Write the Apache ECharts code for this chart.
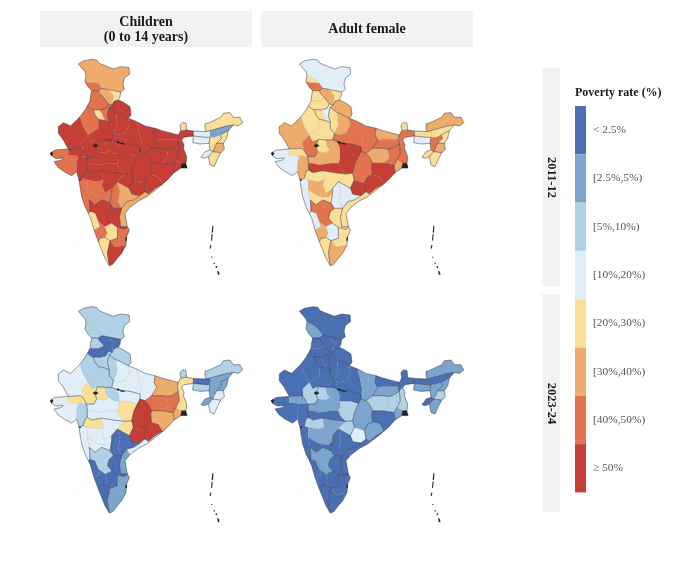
<!DOCTYPE html>
<html><head><meta charset="utf-8">
<style>html,body{margin:0;padding:0;background:#fff}#c{width:680px;height:577px}</style>
<script src="https://cdn.jsdelivr.net/npm/echarts@6/dist/echarts.min.js"></script>
</head><body><div id="c"></div>
<script>
// ---------- chart values: estimated poverty rate (%), per region ----------
const regionNames = ['JK_L','JK_A','JK_B','HP_W','HP_E','PB_N','PB_S','HR_W','HR_E','UK','UP_W','UP_C1','UP_C2','UP_E',
 'RJ_W','RJ_N','RJ_E','RJ_S','RJ_SE','MP_NW','MP_V','MP_W','MP_S','MP_E','GJ_W','GJ_N','GJ_E',
 'MH_COAST','MH_N','MH_C','MH_E','MH_W','MH_S','CG_N','CG_S','OD_N','OD_S','AP_N','AP_S','TS_W','TS_E','RS',
 'KA_N','KA_C','KA_SW','KA_S','KL','TN_N','TN_S','BR_N','BR_S','JH_W','JH_E','WB_N','WB_M','WB_S','SK',
 'AR','AS_E','AS_W','ML','AS_S','NL','MN','MZ','TR'];
const children2011 = [35,36,46,34,26,44,45,24,42,56,55,58,60,62,
 53,44,54,58,55,57,61,60,59,57,44,52,53,
 43,55,54,56,42,43,60,62,58,61,33,34,44,36,52,
 53,25,42,26,24,43,51,66,63,64,62,56,54,52,23,
 25,4,14,13,24,23,33,26,14];
const adult2011 = [14,24,46,33,26,24,25,23,14,33,25,36,44,46,
 34,24,26,43,24,34,53,35,56,52,14,25,33,
 15,25,24,26,34,23,44,52,51,54,23,24,14,13,25,
 44,14,35,13,24,23,33,34,44,35,43,44,45,38,24,
 34,24,26,15,44,25,34,23,25];
const children2023 = [8,7,8,2.2,2,8,2,7,8,7,8,15,14,16,
 14,8,7,24,26,8,16,14,13,27,15,25,7,
 15,24,14,26,15,12,55,58,36,54,12,4,1.9,2,1.8,
 8,1.8,2,1.7,1.9,4,3.8,35,34,44,43,25,24,33,8,
 8,4,2,7,4,3.5,16,14,3.6];
const adult2023 = [1.5,4,4,1.4,1.6,1.5,1.2,1.6,1.3,1.8,1.5,1.4,1.6,3.5,
 1.5,1.3,1.6,7,8,4,1.9,3.8,1.7,8,1.6,4,1.5,
 1.6,7,4,7,4,1.9,4,12,1.8,3.6,1.4,1.6,1.5,1.6,1.8,
 4,1.3,1.5,1.7,1.6,1.4,1.5,1.6,3.8,8,7,1.5,6,3.9,1.6,
 4,1.7,1.5,4,3.6,3.8,8,3.7,1.8];
const panelTitles = ['Children\n(0 to 14 years)','Adult female'];
const yearLabels = ['2011-12','2023-24'];
const legendTitle = 'Poverty rate (%)';
const binLabels = ['< 2.5%','[2.5%,5%)','[5%,10%)','[10%,20%)','[20%,30%)','[30%,40%)','[40%,50%)','\u2265 50%'];
const binEdges = [0,2.5,5,10,20,30,40,50,1000];

// ---------- styles ----------
const binColors = ['#4b6fb3','#7ca5cd','#b1d1e6','#e1eef8','#fadf98','#eeac6c','#e1744f','#c53f36'];
const FONT = '"Liberation Serif","Times New Roman",serif';

// ---------- map geometry (hand-traced base map, in a local map coordinate system x, y down) ----------
const G = {
JK_L:[[145,192],[160,183],[185,178],[200,180],[207,190],[225,197],[250,207],[272,200],[297,203],[299,222],[283,235],[279,252],[283,268],[272,276],[240,270],[232,268],[215,265],[205,250],[190,236],[168,225],[165,215]],
JK_A:[[168,225],[190,236],[205,250],[180,248],[165,245]],
JK_B:[[165,245],[180,248],[205,250],[215,265],[205,272],[185,272],[175,262]],
HP_W:[[205,272],[215,265],[232,268],[250,285],[247,315],[235,312],[222,295],[208,280]],
HP_E:[[232,268],[240,270],[272,276],[270,290],[265,300],[252,304],[247,315],[250,285]],
PB_N:[[185,272],[205,272],[208,280],[222,295],[205,303],[180,303],[182,285]],
PB_S:[[180,303],[205,303],[222,295],[235,312],[228,325],[210,330],[190,329],[185,328],[172,318]],
HR_W:[[190,329],[210,330],[218,345],[225,362],[205,358],[195,345]],
HR_E:[[210,330],[228,325],[235,312],[247,315],[238,322],[232,345],[238,368],[225,362],[218,345]],
UK:[[252,304],[265,300],[280,307],[300,320],[303,345],[295,355],[270,342],[258,337],[250,332],[238,322],[247,315]],
UP_W:[[238,322],[250,332],[258,337],[262,375],[250,400],[238,385],[238,368],[232,345]],
UP_C1:[[258,337],[270,342],[295,355],[298,375],[285,400],[262,405],[250,400],[262,375]],
UP_C2:[[295,355],[320,365],[325,385],[335,430],[330,440],[300,432],[280,430],[258,425],[245,420],[250,400],[262,405],[285,400],[298,375]],
UP_E:[[320,365],[345,378],[375,385],[372,405],[380,420],[365,445],[345,460],[330,455],[330,440],[335,430],[325,385]],
RJ_W:[[115,447],[100,420],[85,400],[85,380],[100,368],[122,378],[150,350],[160,380],[175,405],[155,425],[158,450],[150,445]],
RJ_N:[[150,350],[165,330],[172,318],[185,328],[190,329],[195,345],[205,358],[205,385],[175,405],[160,380]],
RJ_E:[[205,358],[225,362],[238,368],[238,385],[250,400],[245,420],[225,420],[202,418],[185,425],[175,405],[205,385]],
RJ_S:[[175,405],[185,425],[202,418],[195,440],[200,455],[192,470],[170,470],[158,450],[155,425]],
RJ_SE:[[202,418],[225,420],[228,440],[237,450],[225,458],[200,455],[195,440]],
MP_NW:[[225,420],[245,420],[258,425],[267,445],[267,462],[250,460],[237,450],[228,440]],
MP_V:[[258,425],[280,430],[300,432],[330,440],[330,455],[322,470],[300,462],[267,462],[267,445]],
MP_W:[[170,470],[192,470],[200,455],[225,458],[237,450],[250,460],[267,462],[267,480],[262,490],[240,490],[205,495],[182,490],[172,490]],
MP_S:[[172,490],[182,490],[205,495],[240,490],[262,490],[268,505],[285,522],[250,518],[215,512],[185,518],[172,510]],
MP_E:[[267,462],[300,462],[322,470],[312,490],[305,520],[285,522],[268,505],[262,490],[267,480]],
GJ_W:[[115,447],[115,465],[145,468],[140,490],[140,515],[125,527],[105,517],[85,503],[72,485],[95,480],[100,474],[78,476],[65,468],[60,460],[75,450]],
GJ_N:[[115,447],[150,445],[158,450],[170,470],[152,468],[145,468],[115,465]],
GJ_E:[[145,468],[152,468],[170,470],[172,490],[172,510],[165,515],[160,535],[147,540],[140,515],[140,490]],
MH_COAST:[[147,540],[160,535],[172,540],[172,570],[178,600],[180,635],[175,640],[165,620],[155,590],[150,560]],
MH_N:[[165,515],[172,510],[185,518],[215,512],[220,540],[200,545],[172,540],[160,535]],
MH_C:[[215,512],[250,518],[285,522],[270,535],[262,545],[245,565],[225,580],[215,555],[220,540]],
MH_E:[[285,522],[305,520],[310,540],[298,565],[262,545],[270,535]],
MH_W:[[172,540],[200,545],[220,540],[215,555],[225,580],[245,565],[245,580],[232,592],[205,590],[172,570]],
MH_S:[[172,570],[205,590],[232,592],[245,580],[240,610],[215,600],[195,615],[178,600]],
CG_N:[[330,455],[345,460],[355,470],[365,490],[362,500],[365,525],[350,530],[340,550],[310,540],[305,520],[312,490],[322,470]],
CG_S:[[310,540],[340,550],[345,575],[330,587],[305,583],[298,565]],
OD_N:[[365,490],[395,490],[430,495],[432,518],[412,540],[398,552],[385,530],[365,525],[362,500]],
OD_S:[[340,550],[350,530],[365,525],[385,530],[398,552],[375,565],[355,582],[345,575]],
AP_N:[[398,552],[385,563],[350,590],[325,603],[300,622],[290,605],[310,600],[330,587],[345,575],[355,582],[375,565]],
AP_S:[[275,625],[290,605],[300,622],[285,640],[292,680],[272,680],[268,650]],
TS_W:[[245,565],[262,545],[270,575],[265,605],[275,625],[250,625],[240,610],[245,580]],
TS_E:[[262,545],[298,565],[305,583],[330,587],[310,600],[290,605],[275,625],[265,605],[270,575]],
RS:[[238,635],[250,625],[275,625],[268,650],[272,680],[292,680],[285,688],[262,682],[245,670],[232,655]],
KA_N:[[178,600],[195,615],[215,600],[240,610],[250,625],[238,635],[232,655],[245,670],[225,680],[205,665],[195,640],[180,635]],
KA_C:[[175,640],[180,635],[195,640],[205,665],[210,680],[192,690],[182,655]],
KA_SW:[[192,690],[210,680],[205,665],[225,680],[232,700],[225,712],[210,715],[205,725]],
KA_S:[[225,680],[245,670],[262,682],[262,715],[240,722],[225,712],[232,700]],
KL:[[205,725],[210,715],[225,712],[240,722],[232,760],[238,797],[225,775],[215,750]],
TN_N:[[262,682],[285,688],[292,680],[298,690],[290,710],[288,735],[255,742],[240,722],[262,715]],
TN_S:[[240,722],[255,742],[288,735],[275,760],[262,775],[248,793],[238,797],[232,760]],
BR_N:[[375,385],[395,392],[425,400],[445,405],[442,418],[420,418],[395,418],[380,420],[372,405]],
BR_S:[[380,420],[395,418],[420,418],[442,418],[445,432],[425,445],[410,447],[395,445],[365,445]],
JH_W:[[365,445],[395,445],[410,447],[415,475],[395,490],[365,490],[355,470],[345,460]],
JH_E:[[410,447],[425,445],[445,432],[448,460],[438,480],[430,495],[395,490],[415,475]],
WB_N:[[442,418],[445,405],[452,392],[470,390],[490,393],[490,408],[462,412],[455,420],[445,432]],
WB_M:[[445,432],[455,420],[462,435],[460,445],[470,470],[468,490],[455,490],[445,485],[438,480],[448,460]],
WB_S:[[438,480],[445,485],[455,490],[452,505],[432,518],[430,495]],
SK:[[452,392],[450,375],[458,367],[468,370],[470,390]],
AR:[[525,372],[540,367],[572,352],[580,340],[600,338],[610,352],[630,352],[638,368],[625,378],[610,375],[590,378],[565,385],[540,392],[528,395],[525,385]],
AS_E:[[540,392],[565,385],[590,378],[610,375],[595,392],[570,405],[555,412],[540,412]],
AS_W:[[490,393],[528,395],[540,392],[540,412],[525,412],[490,408]],
ML:[[490,408],[525,412],[540,412],[537,430],[510,432],[488,428]],
AS_S:[[540,412],[555,412],[570,405],[575,415],[560,430],[548,455],[540,450],[537,430]],
NL:[[570,405],[595,392],[590,415],[580,430],[560,430],[575,415]],
MN:[[560,430],[580,430],[583,448],[572,458],[548,455]],
MZ:[[548,455],[572,458],[562,478],[552,500],[540,495],[535,470]],
TR:[[540,450],[548,455],[535,470],[522,475],[513,472],[525,455]]
};
// parts without data: drawn black in the reference (tips, islands, slivers)
const blackParts = [
 [[60,460],[66,455],[70,461],[65,468]],[[455,490],[468,490],[472,505],[452,505]],
 [[147,538],[152,538],[152,542],[147,542]],[[287,712],[291,712],[290,722],[286,722]],
 [[258,425],[265,423],[270,428],[265,431]],[[270,428],[283,430],[284,434],[272,432]],
 [[190,434],[198,432],[205,437],[198,442],[190,440]],
 [[547,677],[550,678],[549,697],[545,698]],[[545,702],[548,703],[546,722],[543,721]],[[541,735],[544,736],[542,746],[539,745]],
 [[544,770],[547,770],[547,773],[544,773]],[[551,788],[554,788],[554,792],[551,792]],
 [[557,798],[561,798],[561,803],[557,803]],[[562,812],[567,815],[568,825],[563,823]],
 [[128,705],[130,705],[130,707],[128,707]],[[132,715],[134,715],[134,717],[132,717]],
 [[138,728],[140,728],[140,730],[138,730]],[[145,722],[147,722],[147,724],[145,724]],
 [[157,730],[159,730],[159,732],[157,732]],[[173,726],[175,726],[175,728],[173,728]],
 [[140,736],[142,736],[142,738],[140,738]],[[136,750],[138,750],[138,752],[136,752]],
 [[165,738],[167,738],[167,740],[165,740]],[[152,791],[154,791],[154,793],[152,793]]
];
const stateOf = n => n==='RJ_SE' ? 'MP' : n.split('_')[0];
const toLL = p => [p[0], -p[1]];
const ring = a => { const r = a.map(toLL); r.push(r[0]); return r; };

const fillFeatures = regionNames.map(n => ({type:'Feature',properties:{name:n},
  geometry:{type:'Polygon',coordinates:[ring(G[n])]}}));
fillFeatures.push({type:'Feature',properties:{name:'NA'},
  geometry:{type:'MultiPolygon',coordinates:blackParts.map(b=>[ring(b)])}});

// State boundaries: edges of a region not shared with another region of the same state
const edgeCount = {};
regionNames.forEach(n=>{
  const pts = G[n], st = stateOf(n);
  pts.forEach((p,i)=>{
    const q = pts[(i+1)%pts.length];
    const a = p.join(','), b = q.join(',');
    const k = st+'|'+(a<b ? a+'|'+b : b+'|'+a);
    (edgeCount[k] = edgeCount[k] || {n:0,p,q}).n++;
  });
});
const seen = new Set(), lines = [];
Object.keys(edgeCount).forEach(k=>{
  const e = edgeCount[k];
  if (e.n!==1) return;
  const id = k.slice(k.indexOf('|')+1);
  if (seen.has(id)) return; seen.add(id);
  lines.push([[toLL(e.p),toLL(e.q),toLL(e.p)]]);
});

const bounds = [[60,-178],[638,-825]];
const mapW = 192.7, mapH = 215.7;
const panels = [
 {d:children2011,l:50,t:59.3},{d:adult2011,l:271,t:59.3},
 {d:children2023,l:50,t:306.7},{d:adult2023,l:271,t:306.7}
];
const series = [];
panels.forEach((p,k)=>{
  echarts.registerMap('india'+k,{type:'FeatureCollection',features:fillFeatures});
  series.push({type:'map',map:'india'+k,silent:true,aspectScale:1,boundingCoords:bounds,left:p.l,top:p.t,width:mapW,height:mapH,
    roam:false,selectedMode:false,label:{show:false},
    itemStyle:{areaColor:'#222',borderColor:'rgba(70,70,80,0.22)',borderWidth:0.35},
    data:regionNames.map((n,i)=>({name:n,value:p.d[i]}))});
});
panels.forEach((p,k)=>{
  echarts.registerMap('indiaLines'+k,{type:'FeatureCollection',features:[{type:'Feature',properties:{name:'lines'},
    geometry:{type:'MultiPolygon',coordinates:lines}}]});
  series.push({type:'map',map:'indiaLines'+k,silent:true,aspectScale:1,boundingCoords:bounds,left:p.l,top:p.t,width:mapW,height:mapH,
    roam:false,selectedMode:false,label:{show:false},z:5,
    itemStyle:{areaColor:'transparent',borderColor:'rgba(40,40,55,0.5)',borderWidth:0.45},data:[]});
});

const strip = (x,y,w,h)=>({type:'rect',shape:{x,y,width:w,height:h},style:{fill:'#f2f2f2'},silent:true});
const txt = (text,x,y,size,extra)=>Object.assign({type:'text',x,y,silent:true,
  style:{text,font:'bold '+size+'px '+FONT,fill:'#1a1a1a',textAlign:'center',textVerticalAlign:'middle',lineHeight:15}},extra||{});

const chart = echarts.init(document.getElementById('c'),null,{renderer:'canvas'});
chart.setOption({
  animation:false,backgroundColor:'#fff',
  tooltip:{show:false},
  visualMap:{type:'piecewise',seriesIndex:[0,1,2,3],left:575,top:106,padding:0,orient:'vertical',align:'left',inverse:true,
    itemWidth:11,itemHeight:48.3,itemGap:0,textGap:7,itemSymbol:'rect',selectedMode:false,hoverLink:false,
    textStyle:{fontFamily:FONT,fontSize:11.4,color:'#555'},
    pieces:binLabels.map((label,i)=>({gte:binEdges[i],lt:binEdges[i+1],label,color:binColors[i]}))},
  series,
  graphic:[
    strip(40,11,212,36),strip(261,11,212,36),strip(542,68,18,218),strip(542,294,18,218),
    txt(panelTitles[0],146,29.5,14),txt(panelTitles[1],367,29.5,14),
    txt(yearLabels[0],551,177.5,12.5,{rotation:-Math.PI/2}),
    txt(yearLabels[1],551,403.5,12.5,{rotation:-Math.PI/2}),
    {type:'text',x:575,y:93,silent:true,style:{text:legendTitle,font:'bold 12px '+FONT,fill:'#1a1a1a',textVerticalAlign:'middle'}}
  ]
});
</script></body></html>
